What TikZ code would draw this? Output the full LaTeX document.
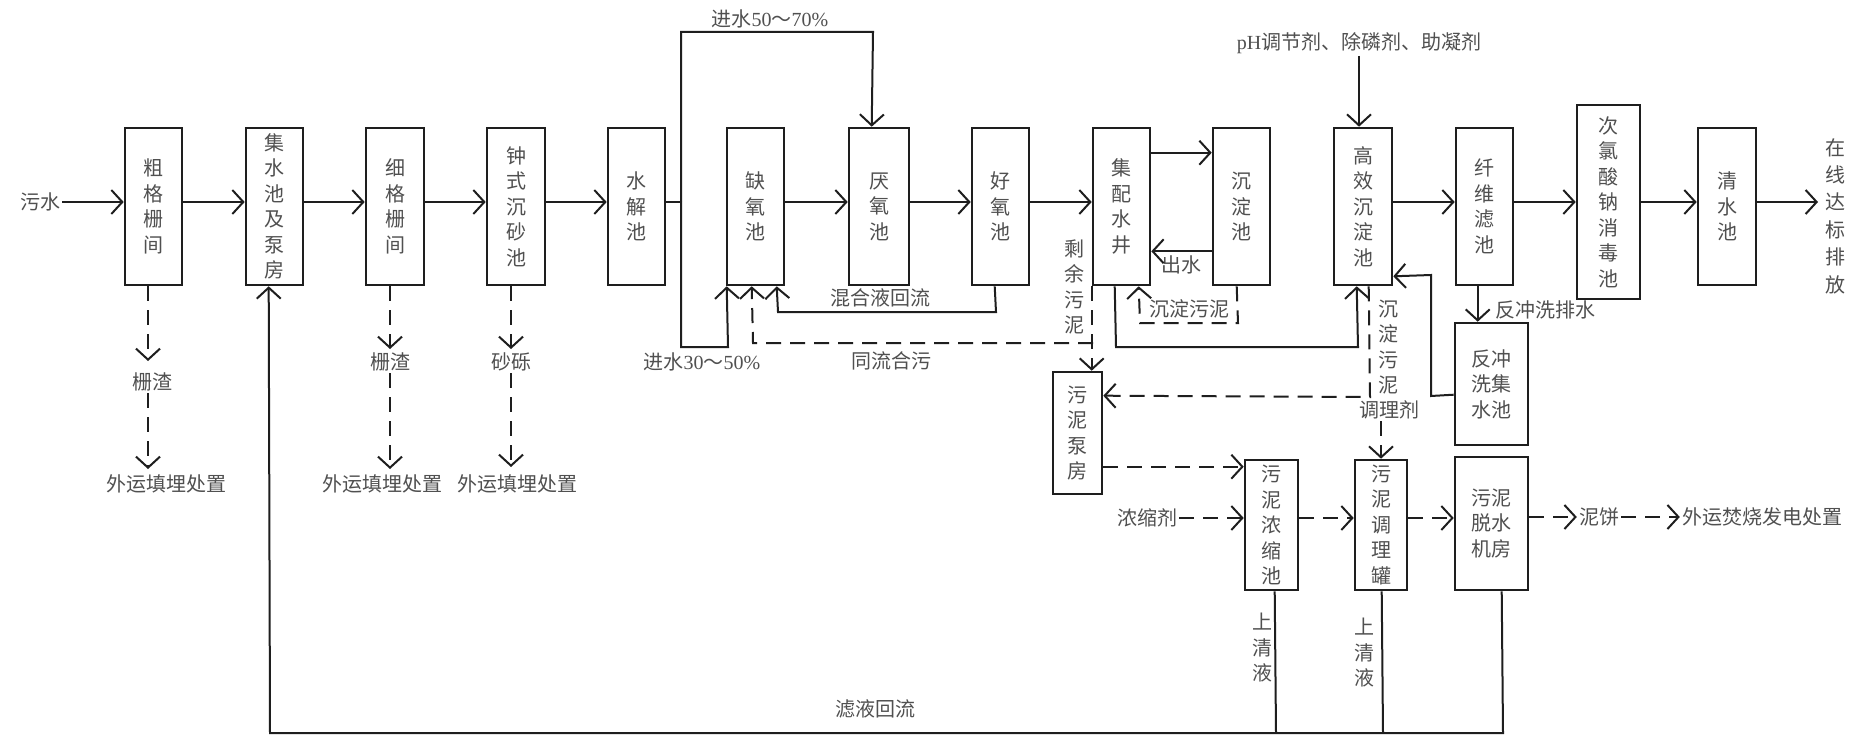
\documentclass[tikz,border=0pt]{standalone}
\usepackage{fontspec}
\setmainfont{Liberation Serif}
\newfontfamily\cjk{Noto Sans CJK SC}
\usetikzlibrary{arrows.meta}
\definecolor{ink}{HTML}{1E1E1E}
\definecolor{txt}{HTML}{505050}
\newcommand\mybox[6]{\node[box, minimum width={(#4-#2)*1pt}, minimum height={(#5-#3)*1pt}] (#1) at ({(#2+#4)/2},{(#3+#5)/2}) {#6};}
\begin{document}
\begin{tikzpicture}[x=1pt,y=-1pt,
  box/.style={draw=ink, line width=2.6pt, inner sep=0pt, align=center, text=txt, font=\cjk\fontsize{20}{25.5}\selectfont},
  lbl/.style={text=txt, inner sep=2pt, font=\cjk\fontsize{20}{25.5}\selectfont, align=center},
  ln/.style={draw=ink, line width=2pt},
  ar/.style={ln, -{Straight Barb[length=11pt,width=24pt]}},
  dsh/.style={dash pattern=on 15pt off 9pt},
]
\useasboundingbox[fill=white] (0,0) rectangle (1863,738);
\coordinate (M) at (0,202);
% boxes
\mybox{cu}{125}{128}{182}{285}{粗\\格\\栅\\间}
\mybox{js}{246}{128}{303}{285}{集\\水\\池\\及\\泵\\房}
\mybox{xi}{366}{128}{424}{285}{细\\格\\栅\\间}
\mybox{zs}{487}{128}{545}{285}{钟\\式\\沉\\砂\\池}
\mybox{sj}{608}{128}{665}{285}{水\\解\\池}
\mybox{qy}{727}{128}{784}{285}{缺\\氧\\池}
\mybox{yy}{849}{128}{909}{285}{厌\\氧\\池}
\mybox{hy}{972}{128}{1029}{285}{好\\氧\\池}
\mybox{jp}{1093}{128}{1150}{285}{集\\配\\水\\井}
\mybox{cd}{1213}{128}{1270}{285}{沉\\淀\\池}
\mybox{gx}{1334}{128}{1392}{285}{高\\效\\沉\\淀\\池}
\mybox{xw}{1456}{128}{1513}{285}{纤\\维\\滤\\池}
\mybox{cl}{1577}{105}{1640}{299}{次\\氯\\酸\\钠\\消\\毒\\池}
\mybox{qs}{1698}{128}{1756}{285}{清\\水\\池}
\mybox{fc}{1455}{323}{1528}{445}{反冲\\洗集\\水池}
\mybox{wb}{1053}{372}{1102}{494}{污\\泥\\泵\\房}
\mybox{ns}{1245}{460}{1298}{590}{污\\泥\\浓\\缩\\池}
\mybox{tl}{1355}{460}{1407}{590}{污\\泥\\调\\理\\罐}
\mybox{ts}{1455}{457}{1528}{590}{污泥\\脱水\\机房}
% labels
\node[lbl] (ws) at (40,202) {污水};
\node[lbl] (j57) at (770,19) {进水{\rmfamily 50}～{\rmfamily 70\%}};
\node[lbl] (j35) at (702,362) {进水{\rmfamily 30}～{\rmfamily 50\%}};
\node[lbl] (hhy) at (880,298) {混合液回流};
\node[lbl] (tlh) at (891,361) {同流合污};
\node[lbl] (syw) at (1074,287) {剩\\余\\污\\泥};
\node[lbl] (cs) at (1181,265) {出水};
\node[lbl] (cdw) at (1189,309) {沉淀污泥};
\node[lbl] (ph) at (1359,43) {{\rmfamily pH}调节剂、除磷剂、助凝剂};
\node[lbl] (cdw2) at (1388,347) {沉\\淀\\污\\泥};
\node[lbl] (tlj) at (1389,410) {调理剂};
\node[lbl, anchor=west] (fcp) at (1493,310) {反冲洗排水};
\node[lbl, font=\cjk\fontsize{20}{27.4}\selectfont] (zx) at (1835,216) {在\\线\\达\\标\\排\\放};
\node[lbl] (z1) at (152,382) {栅渣};
\node[lbl] (z2) at (390,362) {栅渣};
\node[lbl] (z3) at (511,362) {砂砾};
\node[lbl] (w1) at (166,484) {外运填埋处置};
\node[lbl] (w2) at (382,484) {外运填埋处置};
\node[lbl] (w3) at (517,484) {外运填埋处置};
\node[lbl] (nsj) at (1147,518) {浓缩剂};
\node[lbl] (sq1) at (1262,648) {上\\清\\液};
\node[lbl] (sq2) at (1364,653) {上\\清\\液};
\node[lbl] (lyh) at (875,709) {滤液回流};
\node[lbl] (nb) at (1599,517) {泥饼};
\node[lbl] (wf) at (1762,517) {外运焚烧发电处置};
% coordinates
\coordinate (J) at (681,202);
\coordinate (out) at (1818,202);
\coordinate (br) at (1093,343);
\coordinate (z1t) at (148,361);
\coordinate (w1t) at (148,469);
\coordinate (z2t) at (390,349);
\coordinate (w2t) at (390,469);
\coordinate (z3t) at (511,349);
\coordinate (w3t) at (511,467);
% main solid flow
\draw[ar] (ws.east|-M) -- (cu.west|-M);
\draw[ar] (cu.east|-M) -- (js.west|-M);
\draw[ar] (js.east|-M) -- (xi.west|-M);
\draw[ar] (xi.east|-M) -- (zs.west|-M);
\draw[ar] (zs.east|-M) -- (sj.west|-M);
\draw[ln] (sj.east|-M) -- (J);
\draw[ar] (J) -- (681,32) -- (873,32) -- ([xshift=24pt]yy.north west);
\draw[ar] (J) -- (681,347) -- (728,347) -- ([xshift=1pt]qy.south west);
\draw[ar] (qy.east|-M) -- (yy.west|-M);
\draw[ar] (yy.east|-M) -- (hy.west|-M);
\draw[ar] (hy.east|-M) -- (jp.west|-M);
\draw[ar] ([xshift=24pt]hy.south west) -- (996,312) -- (778,312) -- ([xshift=51pt]qy.south west);
\draw[ar] ([yshift=-26pt]jp.north east) -- ([yshift=-26pt]cd.north west);
\draw[ar] ([yshift=35pt]cd.south west) -- ([yshift=35pt]jp.south east);
\draw[ar] ([xshift=23pt]jp.south west) -- (1116,347) -- (1358,347) -- ([xshift=24pt]gx.south west);
\draw[ar] (ph.south) -- (ph.south|-gx.north);
\draw[ar] (gx.east|-M) -- (xw.west|-M);
\draw[ar] (xw.east|-M) -- (cl.west|-M);
\draw[ar] (cl.east|-M) -- (qs.west|-M);
\draw[ar] (qs.east|-M) -- (out);
\draw[ar] ([xshift=23pt]xw.south west) -- ([xshift=24pt]fc.north west);
\draw[ar] ([yshift=-73pt]fc.north west) -- (1431,396) -- (1431,275) -- ([yshift=10pt]gx.south east);
\draw[ln] ([xshift=31pt]ns.south west) -- (1276,733);
\draw[ln] ([xshift=28pt]tl.south west) -- (1383,733);
\draw[ar] ([xshift=48pt]ts.south west) -- (1503,733) -- (270,733) -- ([xshift=24pt]js.south west);
% dashed
\draw[ar,dsh] (cu.south-|z1t) -- (z1t);
\draw[ar,dsh] (z1t|-z1.south) -- (w1t);
\draw[ar,dsh] (xi.south-|z2t) -- (z2t);
\draw[ar,dsh] (z2t|-z2.south) -- (w2t);
\draw[ar,dsh] (zs.south-|z3t) -- (z3t);
\draw[ar,dsh] (z3t|-z3.south) -- (w3t);
\draw[ar,dsh] (jp.south west) -- ([xshift=40pt]wb.north west);
\draw[ar,dsh] (br) -- (753,343) -- ([xshift=26pt]qy.south west);
\draw[ar,dsh] ([xshift=25pt]cd.south west) -- (1238,323) -- (1140,323) -- ([xshift=47pt]jp.south west);
\draw[ar,dsh] ([xshift=36pt]gx.south west) -- (1370,397) -- ([yshift=-25pt]wb.north east);
\draw[ar,dsh] (tl.north|-tlj.south) -- (tl.north);
\draw[ar,dsh] ([yshift=-96pt]wb.north east) -- ([yshift=-8pt]ns.north west);
\draw[ar,dsh] (nsj.east) -- (ns.west|-nsj.east);
\draw[ar,dsh] (ns.east|-nsj.east) -- (tl.west|-nsj.east);
\draw[ar,dsh] (tl.east|-nsj.east) -- (ts.west|-nsj.east);
\draw[ar,dsh] (ts.east|-nb.west) -- (nb.west);
\draw[ar,dsh] (nb.east) -- (wf.west);
\end{tikzpicture}
\end{document}
